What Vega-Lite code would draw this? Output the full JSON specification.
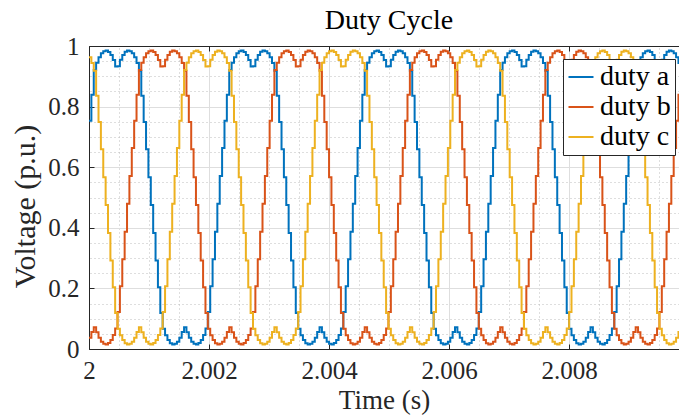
{
"$schema": "https://vega.github.io/schema/vega-lite/v6.json",
"width": 590, "height": 303,
"autosize": {"type": "none"},
"padding": {"left": 89, "top": 46, "right": 0, "bottom": 70},
"background": "white",
"config": {"font": "Liberation Serif", "view": {"stroke": null}},
"title": {"text": "Duty Cycle", "font": "Liberation Serif", "fontSize": 28, "fontWeight": "normal", "color": "#000000", "anchor": "middle", "baseline": "alphabetic", "offset": -27, "dx": 5},
"datasets": {"duty": [
{"t":2,"a":0.753,"b":0.037,"c":0.963},
{"t":2.0000396,"a":0.839,"b":0.056,"c":0.944},
{"t":2.0000792,"a":0.921,"b":0.072,"c":0.918},
{"t":2.0001188,"a":0.945,"b":0.055,"c":0.836},
{"t":2.0001584,"a":0.963,"b":0.037,"c":0.749},
{"t":2.000198,"a":0.976,"b":0.024,"c":0.659},
{"t":2.0002376,"a":0.983,"b":0.017,"c":0.567},
{"t":2.0002772,"a":0.985,"b":0.015,"c":0.475},
{"t":2.0003168,"a":0.980,"b":0.020,"c":0.383},
{"t":2.0003564,"a":0.970,"b":0.030,"c":0.292},
{"t":2.000396,"a":0.954,"b":0.046,"c":0.204},
{"t":2.0004356,"a":0.932,"b":0.068,"c":0.119},
{"t":2.0004752,"a":0.933,"b":0.122,"c":0.067},
{"t":2.0005148,"a":0.955,"b":0.207,"c":0.045},
{"t":2.0005544,"a":0.970,"b":0.296,"c":0.030},
{"t":2.000594,"a":0.981,"b":0.387,"c":0.019},
{"t":2.0006336,"a":0.985,"b":0.479,"c":0.015},
{"t":2.0006732,"a":0.983,"b":0.571,"c":0.017},
{"t":2.0007128,"a":0.976,"b":0.663,"c":0.024},
{"t":2.0007524,"a":0.963,"b":0.753,"c":0.037},
{"t":2.000792,"a":0.944,"b":0.839,"c":0.056},
{"t":2.0008316,"a":0.918,"b":0.921,"c":0.072},
{"t":2.0008712,"a":0.836,"b":0.945,"c":0.055},
{"t":2.0009108,"a":0.749,"b":0.963,"c":0.037},
{"t":2.0009504,"a":0.659,"b":0.976,"c":0.024},
{"t":2.00099,"a":0.567,"b":0.983,"c":0.017},
{"t":2.0010296,"a":0.475,"b":0.985,"c":0.015},
{"t":2.0010692,"a":0.383,"b":0.980,"c":0.020},
{"t":2.0011088,"a":0.292,"b":0.970,"c":0.030},
{"t":2.0011484,"a":0.204,"b":0.954,"c":0.046},
{"t":2.001188,"a":0.119,"b":0.932,"c":0.068},
{"t":2.0012276,"a":0.067,"b":0.933,"c":0.122},
{"t":2.0012672,"a":0.045,"b":0.955,"c":0.207},
{"t":2.0013068,"a":0.030,"b":0.970,"c":0.296},
{"t":2.0013464,"a":0.019,"b":0.981,"c":0.387},
{"t":2.001386,"a":0.015,"b":0.985,"c":0.479},
{"t":2.0014256,"a":0.017,"b":0.983,"c":0.571},
{"t":2.0014652,"a":0.024,"b":0.976,"c":0.663},
{"t":2.0015048,"a":0.037,"b":0.963,"c":0.753},
{"t":2.0015444,"a":0.056,"b":0.944,"c":0.839},
{"t":2.001584,"a":0.072,"b":0.918,"c":0.921},
{"t":2.0016236,"a":0.055,"b":0.836,"c":0.945},
{"t":2.0016632,"a":0.037,"b":0.749,"c":0.963},
{"t":2.0017028,"a":0.024,"b":0.659,"c":0.976},
{"t":2.0017424,"a":0.017,"b":0.567,"c":0.983},
{"t":2.001782,"a":0.015,"b":0.475,"c":0.985},
{"t":2.0018216,"a":0.020,"b":0.383,"c":0.980},
{"t":2.0018612,"a":0.030,"b":0.292,"c":0.970},
{"t":2.0019008,"a":0.046,"b":0.204,"c":0.954},
{"t":2.0019404,"a":0.068,"b":0.119,"c":0.932},
{"t":2.00198,"a":0.122,"b":0.067,"c":0.933},
{"t":2.0020196,"a":0.207,"b":0.045,"c":0.955},
{"t":2.0020592,"a":0.296,"b":0.030,"c":0.970},
{"t":2.0020988,"a":0.387,"b":0.019,"c":0.981},
{"t":2.0021384,"a":0.479,"b":0.015,"c":0.985},
{"t":2.002178,"a":0.571,"b":0.017,"c":0.983},
{"t":2.0022176,"a":0.663,"b":0.024,"c":0.976},
{"t":2.0022572,"a":0.753,"b":0.037,"c":0.963},
{"t":2.0022968,"a":0.839,"b":0.056,"c":0.944},
{"t":2.0023364,"a":0.921,"b":0.072,"c":0.918},
{"t":2.002376,"a":0.945,"b":0.055,"c":0.836},
{"t":2.0024156,"a":0.963,"b":0.037,"c":0.749},
{"t":2.0024552,"a":0.976,"b":0.024,"c":0.659},
{"t":2.0024948,"a":0.983,"b":0.017,"c":0.567},
{"t":2.0025344,"a":0.985,"b":0.015,"c":0.475},
{"t":2.002574,"a":0.980,"b":0.020,"c":0.383},
{"t":2.0026136,"a":0.970,"b":0.030,"c":0.292},
{"t":2.0026532,"a":0.954,"b":0.046,"c":0.204},
{"t":2.0026928,"a":0.932,"b":0.068,"c":0.119},
{"t":2.0027324,"a":0.933,"b":0.122,"c":0.067},
{"t":2.002772,"a":0.955,"b":0.207,"c":0.045},
{"t":2.0028116,"a":0.970,"b":0.296,"c":0.030},
{"t":2.0028512,"a":0.981,"b":0.387,"c":0.019},
{"t":2.0028908,"a":0.985,"b":0.479,"c":0.015},
{"t":2.0029304,"a":0.983,"b":0.571,"c":0.017},
{"t":2.00297,"a":0.976,"b":0.663,"c":0.024},
{"t":2.0030096,"a":0.963,"b":0.753,"c":0.037},
{"t":2.0030492,"a":0.944,"b":0.839,"c":0.056},
{"t":2.0030888,"a":0.918,"b":0.921,"c":0.072},
{"t":2.0031284,"a":0.836,"b":0.945,"c":0.055},
{"t":2.003168,"a":0.749,"b":0.963,"c":0.037},
{"t":2.0032076,"a":0.659,"b":0.976,"c":0.024},
{"t":2.0032472,"a":0.567,"b":0.983,"c":0.017},
{"t":2.0032868,"a":0.475,"b":0.985,"c":0.015},
{"t":2.0033264,"a":0.383,"b":0.980,"c":0.020},
{"t":2.003366,"a":0.292,"b":0.970,"c":0.030},
{"t":2.0034056,"a":0.204,"b":0.954,"c":0.046},
{"t":2.0034452,"a":0.119,"b":0.932,"c":0.068},
{"t":2.0034848,"a":0.067,"b":0.933,"c":0.122},
{"t":2.0035244,"a":0.045,"b":0.955,"c":0.207},
{"t":2.003564,"a":0.030,"b":0.970,"c":0.296},
{"t":2.0036036,"a":0.019,"b":0.981,"c":0.387},
{"t":2.0036432,"a":0.015,"b":0.985,"c":0.479},
{"t":2.0036828,"a":0.017,"b":0.983,"c":0.571},
{"t":2.0037224,"a":0.024,"b":0.976,"c":0.663},
{"t":2.003762,"a":0.037,"b":0.963,"c":0.753},
{"t":2.0038016,"a":0.056,"b":0.944,"c":0.839},
{"t":2.0038412,"a":0.072,"b":0.918,"c":0.921},
{"t":2.0038808,"a":0.055,"b":0.836,"c":0.945},
{"t":2.0039204,"a":0.037,"b":0.749,"c":0.963},
{"t":2.00396,"a":0.024,"b":0.659,"c":0.976},
{"t":2.0039996,"a":0.017,"b":0.567,"c":0.983},
{"t":2.0040392,"a":0.015,"b":0.475,"c":0.985},
{"t":2.0040788,"a":0.020,"b":0.383,"c":0.980},
{"t":2.0041184,"a":0.030,"b":0.292,"c":0.970},
{"t":2.004158,"a":0.046,"b":0.204,"c":0.954},
{"t":2.0041976,"a":0.068,"b":0.119,"c":0.932},
{"t":2.0042372,"a":0.122,"b":0.067,"c":0.933},
{"t":2.0042768,"a":0.207,"b":0.045,"c":0.955},
{"t":2.0043164,"a":0.296,"b":0.030,"c":0.970},
{"t":2.004356,"a":0.387,"b":0.019,"c":0.981},
{"t":2.0043956,"a":0.479,"b":0.015,"c":0.985},
{"t":2.0044352,"a":0.571,"b":0.017,"c":0.983},
{"t":2.0044748,"a":0.663,"b":0.024,"c":0.976},
{"t":2.0045144,"a":0.753,"b":0.037,"c":0.963},
{"t":2.004554,"a":0.839,"b":0.056,"c":0.944},
{"t":2.0045936,"a":0.921,"b":0.072,"c":0.918},
{"t":2.0046332,"a":0.945,"b":0.055,"c":0.836},
{"t":2.0046728,"a":0.963,"b":0.037,"c":0.749},
{"t":2.0047124,"a":0.976,"b":0.024,"c":0.659},
{"t":2.004752,"a":0.983,"b":0.017,"c":0.567},
{"t":2.0047916,"a":0.985,"b":0.015,"c":0.475},
{"t":2.0048312,"a":0.980,"b":0.020,"c":0.383},
{"t":2.0048708,"a":0.970,"b":0.030,"c":0.292},
{"t":2.0049104,"a":0.954,"b":0.046,"c":0.204},
{"t":2.00495,"a":0.932,"b":0.068,"c":0.119},
{"t":2.0049896,"a":0.933,"b":0.122,"c":0.067},
{"t":2.0050292,"a":0.955,"b":0.207,"c":0.045},
{"t":2.0050688,"a":0.970,"b":0.296,"c":0.030},
{"t":2.0051084,"a":0.981,"b":0.387,"c":0.019},
{"t":2.005148,"a":0.985,"b":0.479,"c":0.015},
{"t":2.0051876,"a":0.983,"b":0.571,"c":0.017},
{"t":2.0052272,"a":0.976,"b":0.663,"c":0.024},
{"t":2.0052668,"a":0.963,"b":0.753,"c":0.037},
{"t":2.0053064,"a":0.944,"b":0.839,"c":0.056},
{"t":2.005346,"a":0.918,"b":0.921,"c":0.072},
{"t":2.0053856,"a":0.836,"b":0.945,"c":0.055},
{"t":2.0054252,"a":0.749,"b":0.963,"c":0.037},
{"t":2.0054648,"a":0.659,"b":0.976,"c":0.024},
{"t":2.0055044,"a":0.567,"b":0.983,"c":0.017},
{"t":2.005544,"a":0.475,"b":0.985,"c":0.015},
{"t":2.0055836,"a":0.383,"b":0.980,"c":0.020},
{"t":2.0056232,"a":0.292,"b":0.970,"c":0.030},
{"t":2.0056628,"a":0.204,"b":0.954,"c":0.046},
{"t":2.0057024,"a":0.119,"b":0.932,"c":0.068},
{"t":2.005742,"a":0.067,"b":0.933,"c":0.122},
{"t":2.0057816,"a":0.045,"b":0.955,"c":0.207},
{"t":2.0058212,"a":0.030,"b":0.970,"c":0.296},
{"t":2.0058608,"a":0.019,"b":0.981,"c":0.387},
{"t":2.0059004,"a":0.015,"b":0.985,"c":0.479},
{"t":2.00594,"a":0.017,"b":0.983,"c":0.571},
{"t":2.0059796,"a":0.024,"b":0.976,"c":0.663},
{"t":2.0060192,"a":0.037,"b":0.963,"c":0.753},
{"t":2.0060588,"a":0.056,"b":0.944,"c":0.839},
{"t":2.0060984,"a":0.072,"b":0.918,"c":0.921},
{"t":2.006138,"a":0.055,"b":0.836,"c":0.945},
{"t":2.0061776,"a":0.037,"b":0.749,"c":0.963},
{"t":2.0062172,"a":0.024,"b":0.659,"c":0.976},
{"t":2.0062568,"a":0.017,"b":0.567,"c":0.983},
{"t":2.0062964,"a":0.015,"b":0.475,"c":0.985},
{"t":2.006336,"a":0.020,"b":0.383,"c":0.980},
{"t":2.0063756,"a":0.030,"b":0.292,"c":0.970},
{"t":2.0064152,"a":0.046,"b":0.204,"c":0.954},
{"t":2.0064548,"a":0.068,"b":0.119,"c":0.932},
{"t":2.0064944,"a":0.122,"b":0.067,"c":0.933},
{"t":2.006534,"a":0.207,"b":0.045,"c":0.955},
{"t":2.0065736,"a":0.296,"b":0.030,"c":0.970},
{"t":2.0066132,"a":0.387,"b":0.019,"c":0.981},
{"t":2.0066528,"a":0.479,"b":0.015,"c":0.985},
{"t":2.0066924,"a":0.571,"b":0.017,"c":0.983},
{"t":2.006732,"a":0.663,"b":0.024,"c":0.976},
{"t":2.0067716,"a":0.753,"b":0.037,"c":0.963},
{"t":2.0068112,"a":0.839,"b":0.056,"c":0.944},
{"t":2.0068508,"a":0.921,"b":0.072,"c":0.918},
{"t":2.0068904,"a":0.945,"b":0.055,"c":0.836},
{"t":2.00693,"a":0.963,"b":0.037,"c":0.749},
{"t":2.0069696,"a":0.976,"b":0.024,"c":0.659},
{"t":2.0070092,"a":0.983,"b":0.017,"c":0.567},
{"t":2.0070488,"a":0.985,"b":0.015,"c":0.475},
{"t":2.0070884,"a":0.980,"b":0.020,"c":0.383},
{"t":2.007128,"a":0.970,"b":0.030,"c":0.292},
{"t":2.0071676,"a":0.954,"b":0.046,"c":0.204},
{"t":2.0072072,"a":0.932,"b":0.068,"c":0.119},
{"t":2.0072468,"a":0.933,"b":0.122,"c":0.067},
{"t":2.0072864,"a":0.955,"b":0.207,"c":0.045},
{"t":2.007326,"a":0.970,"b":0.296,"c":0.030},
{"t":2.0073656,"a":0.981,"b":0.387,"c":0.019},
{"t":2.0074052,"a":0.985,"b":0.479,"c":0.015},
{"t":2.0074448,"a":0.983,"b":0.571,"c":0.017},
{"t":2.0074844,"a":0.976,"b":0.663,"c":0.024},
{"t":2.007524,"a":0.963,"b":0.753,"c":0.037},
{"t":2.0075636,"a":0.944,"b":0.839,"c":0.056},
{"t":2.0076032,"a":0.918,"b":0.921,"c":0.072},
{"t":2.0076428,"a":0.836,"b":0.945,"c":0.055},
{"t":2.0076824,"a":0.749,"b":0.963,"c":0.037},
{"t":2.007722,"a":0.659,"b":0.976,"c":0.024},
{"t":2.0077616,"a":0.567,"b":0.983,"c":0.017},
{"t":2.0078012,"a":0.475,"b":0.985,"c":0.015},
{"t":2.0078408,"a":0.383,"b":0.980,"c":0.020},
{"t":2.0078804,"a":0.292,"b":0.970,"c":0.030},
{"t":2.00792,"a":0.204,"b":0.954,"c":0.046},
{"t":2.0079596,"a":0.119,"b":0.932,"c":0.068},
{"t":2.0079992,"a":0.067,"b":0.933,"c":0.122},
{"t":2.0080388,"a":0.045,"b":0.955,"c":0.207},
{"t":2.0080784,"a":0.030,"b":0.970,"c":0.296},
{"t":2.008118,"a":0.019,"b":0.981,"c":0.387},
{"t":2.0081576,"a":0.015,"b":0.985,"c":0.479},
{"t":2.0081972,"a":0.017,"b":0.983,"c":0.571},
{"t":2.0082368,"a":0.024,"b":0.976,"c":0.663},
{"t":2.0082764,"a":0.037,"b":0.963,"c":0.753},
{"t":2.008316,"a":0.056,"b":0.944,"c":0.839},
{"t":2.0083556,"a":0.072,"b":0.918,"c":0.921},
{"t":2.0083952,"a":0.055,"b":0.836,"c":0.945},
{"t":2.0084348,"a":0.037,"b":0.749,"c":0.963},
{"t":2.0084744,"a":0.024,"b":0.659,"c":0.976},
{"t":2.008514,"a":0.017,"b":0.567,"c":0.983},
{"t":2.0085536,"a":0.015,"b":0.475,"c":0.985},
{"t":2.0085932,"a":0.020,"b":0.383,"c":0.980},
{"t":2.0086328,"a":0.030,"b":0.292,"c":0.970},
{"t":2.0086724,"a":0.046,"b":0.204,"c":0.954},
{"t":2.008712,"a":0.068,"b":0.119,"c":0.932},
{"t":2.0087516,"a":0.122,"b":0.067,"c":0.933},
{"t":2.0087912,"a":0.207,"b":0.045,"c":0.955},
{"t":2.0088308,"a":0.296,"b":0.030,"c":0.970},
{"t":2.0088704,"a":0.387,"b":0.019,"c":0.981},
{"t":2.00891,"a":0.479,"b":0.015,"c":0.985},
{"t":2.0089496,"a":0.571,"b":0.017,"c":0.983},
{"t":2.0089892,"a":0.663,"b":0.024,"c":0.976},
{"t":2.0090288,"a":0.753,"b":0.037,"c":0.963},
{"t":2.0090684,"a":0.839,"b":0.056,"c":0.944},
{"t":2.009108,"a":0.921,"b":0.072,"c":0.918},
{"t":2.0091476,"a":0.945,"b":0.055,"c":0.836},
{"t":2.0091872,"a":0.963,"b":0.037,"c":0.749},
{"t":2.0092268,"a":0.976,"b":0.024,"c":0.659},
{"t":2.0092664,"a":0.983,"b":0.017,"c":0.567},
{"t":2.009306,"a":0.985,"b":0.015,"c":0.475},
{"t":2.0093456,"a":0.980,"b":0.020,"c":0.383},
{"t":2.0093852,"a":0.970,"b":0.030,"c":0.292},
{"t":2.0094248,"a":0.954,"b":0.046,"c":0.204},
{"t":2.0094644,"a":0.932,"b":0.068,"c":0.119},
{"t":2.009504,"a":0.933,"b":0.122,"c":0.067},
{"t":2.0095436,"a":0.955,"b":0.207,"c":0.045},
{"t":2.0095832,"a":0.970,"b":0.296,"c":0.030},
{"t":2.0096228,"a":0.981,"b":0.387,"c":0.019},
{"t":2.0096624,"a":0.985,"b":0.479,"c":0.015},
{"t":2.009702,"a":0.983,"b":0.571,"c":0.017},
{"t":2.0097416,"a":0.976,"b":0.663,"c":0.024},
{"t":2.0097812,"a":0.963,"b":0.753,"c":0.037},
{"t":2.0098208,"a":0.944,"b":0.839,"c":0.056},
{"t":2.0098604,"a":0.918,"b":0.921,"c":0.072}
]},
"resolve": {"axis": {"x": "independent", "y": "independent"}},
"layer": [
{
"data": {"values": [{"t": 2, "v": 0}]},
"mark": {"type": "point", "opacity": 0},
"encoding": {
"x": {"field": "t", "type": "quantitative", "scale": {"domain": [2, 2.00983], "nice": false, "zero": false},
"axis": {"orient": "top", "values": [2.0005,2.001,2.0015,2.0025,2.003,2.0035,2.0045,2.005,2.0055,2.0065,2.007,2.0075,2.0085,2.009,2.0095], "labels": false, "ticks": false, "domain": false, "grid": true, "gridColor": "#bdbdbd", "gridDash": [1, 3], "gridWidth": 1, "title": null, "minExtent": 16, "maxExtent": 16}},
"y": {"field": "v", "type": "quantitative", "scale": {"domain": [0, 1], "nice": false, "zero": false},
"axis": {"orient": "right", "values": [0.05,0.1,0.15,0.25,0.3,0.35,0.45,0.5,0.55,0.65,0.7,0.75,0.85,0.9,0.95], "labels": false, "ticks": false, "domain": false, "grid": true, "gridColor": "#bdbdbd", "gridDash": [1, 3], "gridWidth": 1, "title": null, "minExtent": 0, "maxExtent": 0}}
}
},
{
"data": {"values": [{"t": 2, "v": 0}]},
"mark": {"type": "point", "opacity": 0},
"encoding": {
"x": {"field": "t", "type": "quantitative", "scale": {"domain": [2, 2.00983], "nice": false, "zero": false},
"axis": {"orient": "top", "values": [2, 2.002, 2.004, 2.006, 2.008], "labels": false, "ticks": true, "tickSize": -5, "tickColor": "#262626", "domain": true, "domainColor": "#262626", "grid": false, "title": null, "minExtent": 16, "maxExtent": 16}},
"y": {"field": "v", "type": "quantitative", "scale": {"domain": [0, 1], "nice": false, "zero": false}, "axis": null}
}
},
{
"data": {"name": "duty"},
"transform": [{"fold": ["a", "b", "c"], "as": ["key", "v"]}],
"mark": {"type": "line", "interpolate": "step-after", "strokeWidth": 2, "clip": true},
"encoding": {
"x": {"field": "t", "type": "quantitative", "scale": {"domain": [2, 2.00983], "nice": false, "zero": false},
"axis": {"orient": "bottom", "values": [2, 2.002, 2.004, 2.006, 2.008], "format": "~g", "title": "Time (s)", "grid": true, "gridColor": "#dedede", "gridWidth": 1, "domainColor": "#262626", "tickColor": "#262626", "tickSize": -5, "labelPadding": 14, "labelFlush": false, "labelOverlap": false, "labelFont": "Liberation Serif", "labelFontSize": 25, "labelColor": "#262626", "titleFont": "Liberation Serif", "titleFontSize": 27, "titleFontWeight": "normal", "titleColor": "#262626", "titlePadding": 4}},
"y": {"field": "v", "type": "quantitative", "scale": {"domain": [0, 1], "nice": false, "zero": false},
"axis": {"orient": "left", "values": [0, 0.2, 0.4, 0.6, 0.8, 1], "format": "~g", "title": "Voltage (p.u.)", "grid": true, "gridColor": "#dedede", "gridWidth": 1, "domainColor": "#262626", "tickColor": "#262626", "tickSize": -5, "labelPadding": 15, "labelOverlap": false, "labelFont": "Liberation Serif", "labelFontSize": 25, "labelColor": "#262626", "titleFont": "Liberation Serif", "titleFontSize": 30, "titleFontWeight": "normal", "titleColor": "#262626", "titleX": -49, "titleY": 160}},
"color": {"field": "key", "type": "nominal",
"scale": {"domain": ["a", "b", "c"], "range": ["#0072BD", "#D95319", "#EDB120"]},
"legend": {"orient": "none", "legendX": 474, "legendY": 13, "title": null, "labelExpr": "'duty ' + datum.label", "symbolType": "stroke", "symbolSize": 625, "symbolStrokeWidth": 2, "labelFont": "Liberation Serif", "labelFontSize": 28, "labelColor": "#000000", "labelOffset": 5, "fillColor": "white", "strokeColor": "#262626", "padding": 4, "rowPadding": 2}}
}
}
]
}
